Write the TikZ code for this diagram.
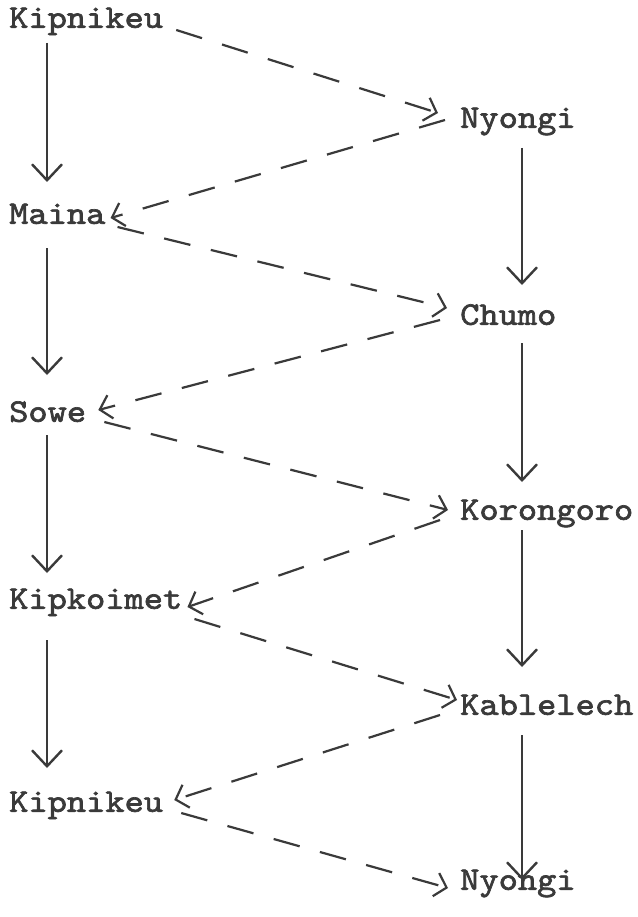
\documentclass[tikz,border=0pt]{standalone}
\usepackage{fontspec}
\newfontfamily\cour[FakeBold=2,FakeStretch=1.11]{lmmono10-regular.otf}
\usetikzlibrary{arrows.meta,calc}
\definecolor{ink}{HTML}{3A3A3A}
\tikzset{
  lbl/.style={inner sep=0pt, text height=19pt, text depth=0pt, anchor=south west,
    font=\cour\fontsize{33}{36}\selectfont, text=ink},
  solidarrow/.style={draw=ink, line width=2.4pt, -{Straight Barb[length=16pt,width=30pt,line width=2.4pt]}},
  dasharrow/.style={draw=ink, line width=2.2pt, dash pattern=on 27pt off 21pt,
    -{Straight Barb[length=11pt,width=24pt,line width=2.2pt]}}
}
\begin{document}
\begin{tikzpicture}[x=1pt,y=-1pt]
\useasboundingbox[fill=white] (0,0) rectangle (637,917);
% left column
\node[lbl] (k1) at (9,28) {Kipnikeu};
\node[lbl] (maina) at (9,224) {Maina};
\node[lbl] (sowe) at (9,422) {Sowe};
\node[lbl] (kipk) at (9,609) {Kipkoimet};
\node[lbl] (k2) at (9,812) {Kipnikeu};
% right column
\node[lbl] (n1) at (460,128) {Nyongi};
\node[lbl] (chumo) at (460,325) {Chumo};
\node[lbl] (koro) at (460,520) {Korongoro};
\node[lbl] (kable) at (460,715) {Kablelech};
\node[lbl] (n2) at (460,890) {Nyongi};
% vertical solid arrows
\draw[solidarrow] ($(k1.south west)+(38,15)$) -- ($(maina.south west)+(38,-42)$);
\draw[solidarrow] ($(maina.south west)+(38,24)$) -- ($(sowe.south west)+(38,-47)$);
\draw[solidarrow] ($(sowe.south west)+(38,13)$) -- ($(kipk.south west)+(38,-36)$);
\draw[solidarrow] ($(kipk.south west)+(38,31)$) -- ($(k2.south west)+(38,-44)$);
\draw[solidarrow] ($(n1.south west)+(62,20)$) -- ($(chumo.south west)+(62,-40)$);
\draw[solidarrow] ($(chumo.south west)+(62,18)$) -- ($(koro.south west)+(62,-38)$);
\draw[solidarrow] ($(koro.south west)+(62,10)$) -- ($(kable.south west)+(62,-48)$);
\draw[solidarrow] ($(kable.south west)+(62,20)$) -- ($(n2.south west)+(62,-10)$);
% dashed zigzag
\draw[dasharrow] ($(k1.south east)+(13,2)$) -- ($(n1.south west)+(-22,-15)$);
\draw[dasharrow] ($(n1.south west)+(-15,-8)$) -- ($(maina.south east)+(5,-6)$);
\draw[dasharrow] ($(maina.south east)+(12,3)$) -- ($(chumo.south west)+(-13,-17)$);
\draw[dasharrow] ($(chumo.south west)+(-20,-5)$) -- ($(sowe.south east)+(12,-12)$);
\draw[dasharrow] ($(sowe.south east)+(18,0)$) -- ($(koro.south west)+(-12,-10)$);
\draw[dasharrow] ($(koro.south west)+(-20,0)$) -- ($(kipk.south east)+(5,-2)$);
\draw[dasharrow] ($(kipk.south east)+(12,10)$) -- ($(kable.south west)+(-3,-15)$);
\draw[dasharrow] ($(kable.south west)+(-20,0)$) -- ($(k2.south east)+(11,-12)$);
\draw[dasharrow] ($(k2.south east)+(18,1)$) -- ($(n2.south west)+(-12,-2)$);
\end{tikzpicture}
\end{document}
